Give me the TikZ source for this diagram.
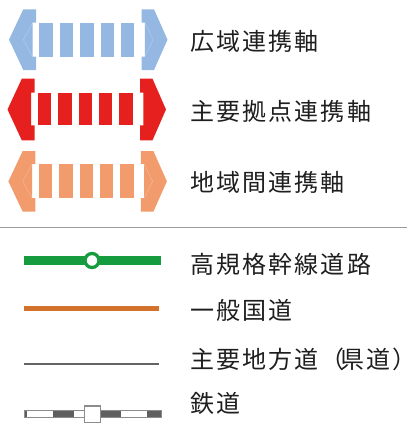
\documentclass[tikz,border=0pt]{standalone}
\usepackage{fontspec}
\newfontfamily\jp[LetterSpace=9]{Noto Sans CJK JP}
\newfontfamily\jpp[LetterSpace=9,RawFeature=+palt]{Noto Sans CJK JP}
\definecolor{axblue}{RGB}{149,184,227}
\definecolor{axred}{RGB}{229,32,30}
\definecolor{axorange}{RGB}{242,156,110}
\definecolor{hwgreen}{RGB}{22,155,62}
\definecolor{nrorange}{RGB}{210,114,44}
\definecolor{prgray}{RGB}{100,100,100}
\definecolor{raildark}{RGB}{95,95,95}
\definecolor{railedge}{RGB}{140,140,140}
\definecolor{sepgray}{RGB}{155,155,155}
\definecolor{txt}{RGB}{30,30,30}
\newcommand\legaxis[7]{%
  \begin{scope}[xshift=#6]
    \fill[#1] (23.3,#2) -- (36,#2) -- (36,#4) -- (32.7,#4) -- (32.7,#5) -- (36,#5) -- (36,#3) -- (23.3,#3) -- (9,{(#2+#3)/2}) -- cycle;
    \draw[white,opacity=#7,line width=0.4] (32.7,#4) -- (23.3,{(#2+#3)/2}) -- (32.7,#5);
    \fill[#1] (141.5,#2) -- (154,#2) -- (167.5,{(#2+#3)/2}) -- (154,#3) -- (141.5,#3) -- (141.5,#5) -- (144.8,#5) -- (144.8,#4) -- (141.5,#4) -- cycle;
    \draw[white,opacity=#7,line width=0.4] (144.8,#4) -- (153.2,{(#2+#3)/2}) -- (144.8,#5);
    \foreach \k in {0,...,4}{
      \fill[#1] ({39.3+20.4*\k},#4) rectangle ({52.7+20.4*\k},#5);
    }
  \end{scope}}
\tikzset{
  lab/.style={anchor=west,inner sep=0pt,text=txt,font=\jp\fontsize{24pt}{28pt}\selectfont},
}
\begin{document}
\begin{tikzpicture}[x=1pt,y=-1pt]
\useasboundingbox (0,0) rectangle (415,426);
% axes
\legaxis{axblue}{9.3}{70}{22.7}{56.7}{0pt}{0.3}
\legaxis{axred}{78.7}{140.3}{92.6}{125.4}{-1.5pt}{0}
\legaxis{axorange}{151}{211.7}{164}{198.2}{-0.6pt}{0.3}
\node[lab] (t1) at (190,41.5) {広域連携軸};
\node[lab] (t2) at (190,111) {主要拠点連携軸};
\node[lab] (t3) at (190,182) {地域間連携軸};
% separator
\draw[sepgray,line width=1.5] (0,227.3) -- (407,227.3);
% high-standard highway
\draw[hwgreen,line width=8.5] (24.3,260.5) -- (161,260.5);
\draw[hwgreen,line width=3.3,fill=white] (92,260.5) circle (7);
\node[lab] (t4) at (190,264.5) {高規格幹線道路};
% national road
\draw[nrorange,line width=5] (24,308.2) -- (159,308.2);
\node[lab] (t5) at (190,310) {一般国道};
% prefectural road
\draw[prgray,line width=2] (24,363.7) -- (159,363.7);
\node[lab] (t6) at (190,359) {主要地方道（\kern-5pt 県道\kern3pt{\jpp ）}};
% railway
\fill[raildark] (24,410) rectangle (161,417.3);
\fill[white] (27.3,410) rectangle (53.3,417.3);
\fill[white] (74,410) rectangle (84,417.3);
\fill[white] (120.7,410) rectangle (146.7,417.3);
\draw[railedge,line width=0.8] (24,410) rectangle (161,417.3);
\draw[railedge,line width=1.5,fill=white] (84.5,406) rectangle (100.5,422.7);
\node[lab] (t7) at (190,403.5) {鉄道};
\end{tikzpicture}
\end{document}
